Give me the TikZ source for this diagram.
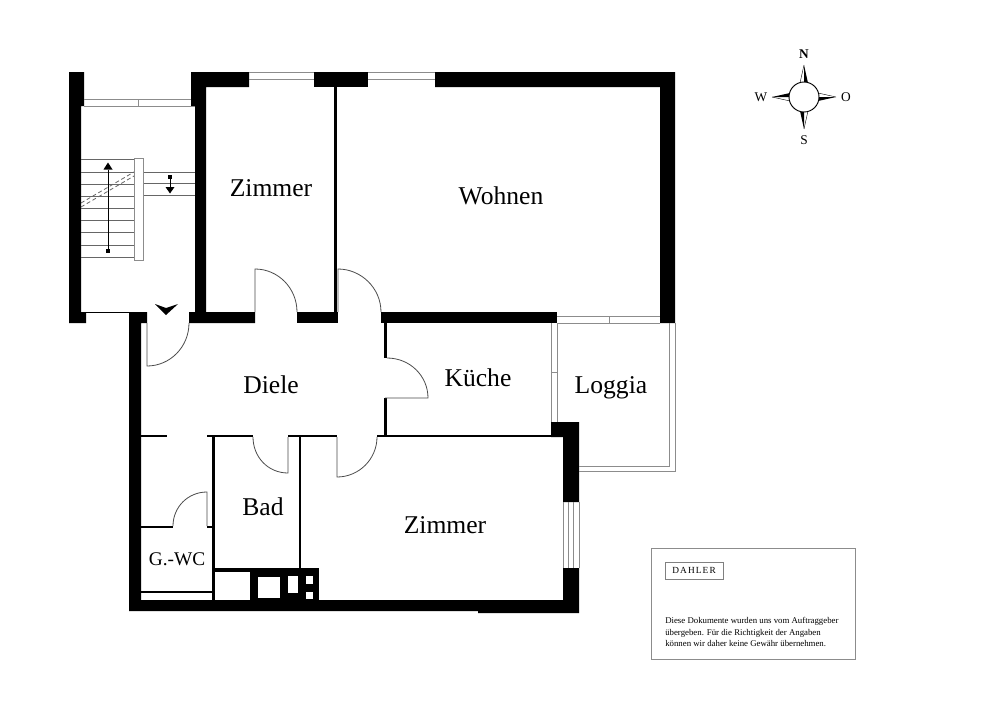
\documentclass[tikz,border=0pt]{standalone}
\usepackage{fontspec}
\setmainfont{Liberation Serif}
\usetikzlibrary{arrows,positioning}

\begin{document}
\begin{tikzpicture}[
  x=0.75pt,y=-0.75pt,
  wall/.style={fill=black},
  glass/.style={draw=black!45,line width=0.75pt},
  tread/.style={draw=black!60,line width=0.6pt},
  leaf/.style={draw=black!70,line width=0.6pt},
  roomlabel/.style={font=\fontsize{19.2}{22}\selectfont,inner sep=0},
  smallroom/.style={font=\fontsize{14.5}{16}\selectfont,inner sep=0},
  windrose/.style={font=\fontsize{10}{11}\selectfont,inner sep=0},
  notetext/.style={font=\fontsize{6.6}{8.7}\selectfont,align=left,inner sep=0,anchor=north west}
  ]

  \useasboundingbox[fill=white] (0,0) rectangle (1000,703);

  % outer walls
  \fill[wall] (69,72) -- (84,72) -- (84,106) -- (81,106) -- (81,312) -- (86,312)
    -- (86,323) -- (69,323) -- cycle;
  \fill[wall] (191,72) -- (249,72) -- (249,87) -- (206,87) -- (206,312) -- (255,312)
    -- (255,323) -- (189,323) -- (189,312) -- (195,312) -- (195,106) -- (191,106) -- cycle;
  \fill[wall] (314,72) rectangle (368,87);
  \fill[wall] (435,72) -- (675,72) -- (675,323) -- (660,323) -- (660,87) -- (435,87) -- cycle;
  \fill[wall] (129,312) -- (147,312) -- (147,323) -- (141,323) -- (141,600) -- (563,600)
    -- (563,568) -- (579,568) -- (579,613) -- (478,613) -- (478,611) -- (129,611) -- cycle;
  \fill[wall] (551,422) -- (579,422) -- (579,502) -- (563,502) -- (563,437) -- (551,437) -- cycle;

  % inner walls
  \fill[wall] (297,312) rectangle (338,323);
  \fill[wall] (381,312) rectangle (557,323);
  \fill[wall] (334,87) rectangle (337,312);
  \fill[wall] (384,323) rectangle (387,358);
  \fill[wall] (384,398) rectangle (387,435);
  \fill[wall] (141,434.5) rectangle (167,437);
  \fill[wall] (207,434.5) rectangle (253,437);
  \fill[wall] (288,434.5) rectangle (337,437);
  \fill[wall] (377,434.5) rectangle (551,437);
  \fill[wall] (212,437) rectangle (215,568);
  \fill[wall] (299,437) rectangle (301,568);
  \fill[wall] (141,526) rectangle (173,528);
  \fill[wall] (207,526) rectangle (212,528);
  \fill[wall] (141,591) rectangle (212,593);
  \fill[wall] (81,311.5) rectangle (129,312.5);

  % shaft
  \fill[wall] (212,568) rectangle (319,600);
  \fill[white] (215,572) rectangle (250,600);
  \fill[white] (258,577) rectangle (280,598);
  \fill[white] (288,576) rectangle (298,593);
  \fill[white] (306,576) rectangle (313,584);
  \fill[white] (306,592) rectangle (313,599);

  % windows
  \draw[glass] (84,99) -- (191,99) (84,106) -- (195,106) (138,99) -- (138,106);
  \draw[glass] (249,72.5) -- (314,72.5) (249,79) -- (314,79);
  \draw[glass] (368,72.5) -- (435,72.5) (368,79) -- (435,79);
  \draw[glass] (557,316) -- (660,316) (557,323) -- (660,323) (609,316) -- (609,323);
  \draw[glass] (551,323) -- (551,422) (557,323) -- (557,422) (551,372) -- (557,372);
  \draw[glass] (563,502) -- (563,568) (568,502) -- (568,568) (573,502) -- (573,568) (579,502) -- (579,568);
  \draw[glass] (669,323) -- (669,466) -- (579,466);
  \draw[glass] (675,323) -- (675,471) -- (579,471);

  % stairs
  \foreach \y in {159,172,184,196,208,220,232,245,257}
    \draw[tread] (81,\y) -- (134,\y);
  \foreach \y in {172,183,195}
    \draw[tread] (143,\y) -- (195,\y);
  \draw[glass,fill=white] (134,158) rectangle (143,260);
  \draw[tread,densely dashed] (81,203) -- (134,172) (81,207) -- (134,176);
  \fill (106,249) rectangle (110,253);
  \fill (168,175) rectangle (172,179);
  \draw[line width=0.6pt] (108,251) -- (108,170) (170,177) -- (170,188);
  \fill (108,162.5) -- (112.5,169.5) -- (103.5,169.5) -- cycle;
  \fill (170,193.5) -- (165.5,187) -- (174.5,187) -- cycle;
  \fill (155,304) -- (166,308) -- (178,304) -- (166,315) -- cycle;

  % doors
  \draw[leaf] (147,323) -- (147,366) .. controls (170,366) and (189,347) .. (189,323);
  \draw[leaf] (255,312) -- (255,269) .. controls (278,269) and (297,288) .. (297,312);
  \draw[leaf] (338,312) -- (338,269) .. controls (361,269) and (381,288) .. (381,312);
  \draw[leaf] (387,358) .. controls (410,358) and (428,376) .. (428,398) -- (385,398);
  \draw[leaf] (253,437) .. controls (253,457) and (268,473) .. (288,473) -- (288,437);
  \draw[leaf] (377,437) .. controls (377,459) and (359,477) .. (337,477) -- (337,437);
  \draw[leaf] (173,526) .. controls (173,507) and (188,492) .. (207,492) -- (207,526);

  % rooms
  \node[roomlabel] (zimmer1) at (271,188) {Zimmer};
  \node[roomlabel] (wohnen)  at (501,196) {Wohnen};
  \node[roomlabel] (diele)   at (271,385) {Diele};
  \node[roomlabel] (kueche)  at (478,378) {Küche};
  \node[roomlabel] (loggia)  at (611,388) {Loggia};
  \node[roomlabel] (bad)     at (263,507) {Bad};
  \node[roomlabel] (zimmer2) at (445,525) {Zimmer};
  \node[smallroom] (wc)      at (177,559) {G.-WC};

  % wind rose
  \foreach \a in {0,90,180,270} {
    \begin{scope}[shift={(804,97)},rotate=\a]
      \fill (0,-32) -- (4,-14) -- (0,-14) -- cycle;
      \draw[line width=0.3pt] (0,-32) -- (-4,-14) -- (0,-14);
    \end{scope}
  }
  \node[circle,draw,fill=white,line width=0.7pt,minimum size=22.5pt,inner sep=0] (rose) at (804,97) {};
  \node[windrose,font=\bfseries\fontsize{10}{11}\selectfont] (north) at (804,54) {N};
  \node[windrose] (south) at (804,140) {S};
  \node[windrose] (west)  at (761,97)  {W};
  \node[windrose] (east)  at (846,97)  {O};

  % note
  \draw[glass] (651,548) rectangle (855,659);
  \node[draw=black!50,line width=0.5pt,inner sep=0,minimum width=43.5pt,minimum height=12.5pt,
    font=\fontsize{7}{8}\selectfont] (logo) at (694,570.5) {\addfontfeature{LetterSpace=12}DAHLER};
  \node[notetext] (note) at (665,617) {Diese Dokumente wurden uns vom Auftraggeber\\
    übergeben. Für die Richtigkeit der Angaben\\
    können wir daher keine Gewähr übernehmen.};
\end{tikzpicture}
\end{document}
